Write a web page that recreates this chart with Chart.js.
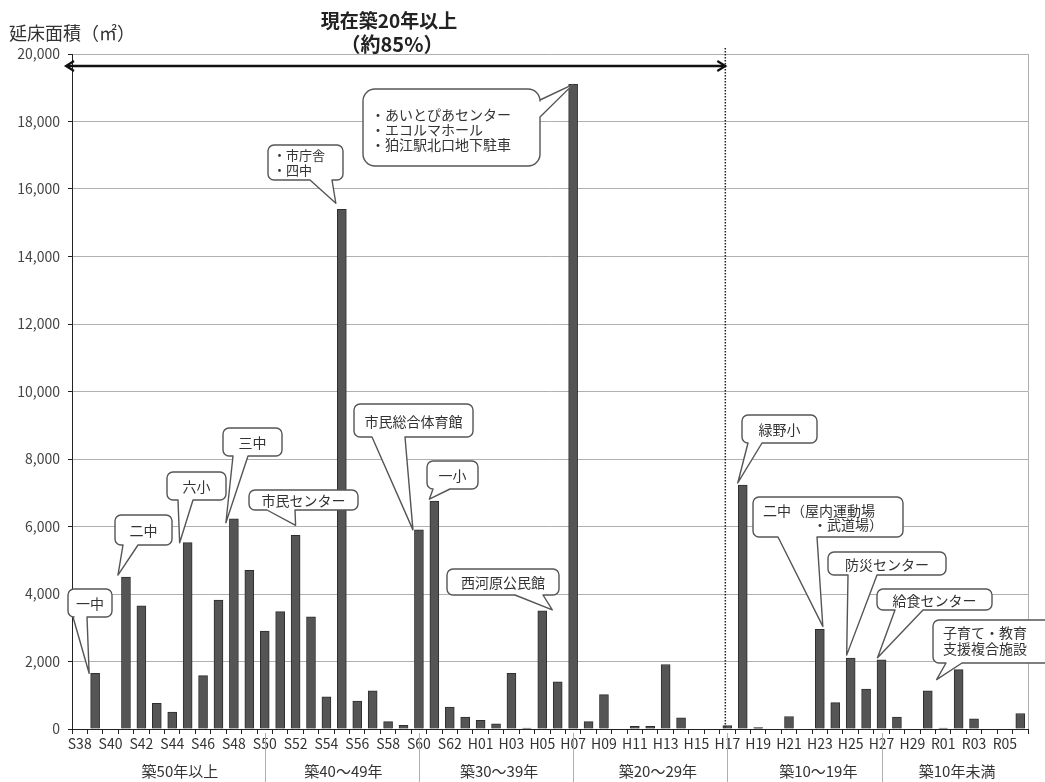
<!DOCTYPE html>
<html lang="ja">
<head>
<meta charset="utf-8">
<title>建築年度別延床面積</title>
<script src="https://cdn.jsdelivr.net/npm/chart.js@4.4.1/dist/chart.umd.min.js"></script>
<style>
  html, body { margin: 0; padding: 0; background: #ffffff; }
  #wrap { width: 1045px; height: 782px; position: relative; }
</style>
</head>
<body>
<div id="wrap"><canvas id="chart" width="1045" height="782"></canvas></div>
<script>
// 建築年度（昭和38年〜令和6年）
const categories = [
  'S38','S39','S40','S41','S42','S43','S44','S45','S46','S47','S48','S49','S50',
  'S51','S52','S53','S54','S55','S56','S57','S58','S59','S60','S61','S62','S63',
  'H01','H02','H03','H04','H05','H06','H07','H08','H09','H10','H11','H12','H13',
  'H14','H15','H16','H17','H18','H19','H20','H21','H22','H23','H24','H25','H26',
  'H27','H28','H29','H30',
  'R01','R02','R03','R04','R05','R06'
];

// 年度ごとの延床面積（㎡）
const floorArea = [
  0, 1650, 0, 4500, 3650, 760, 500, 5520, 1580, 3820, 6230, 4700, 2900,
  3480, 5740, 3320, 950, 15400, 830, 1130, 220, 110, 5900, 6750, 650, 350,
  260, 150, 1650, 30, 3500, 1400, 19100, 220, 1020, 0, 80, 80, 1910,
  330, 0, 0, 100, 7230, 40, 0, 370, 0, 2950, 780, 2100, 1180,
  2050, 350, 0, 1130,
  30, 1760, 300, 0, 0, 460
];

// 縦軸の目盛
const yMin = 0;
const yMax = 20000;
const yStep = 2000;

// 築年数の区分
const groupNames = ['築50年以上', '築40～49年', '築30～39年', '築20～29年', '築10～19年', '築10年未満'];
const groupBreaks = ['S50', 'S60', 'H07', 'H17', 'H27'];

// 区分ラベルの横位置（カテゴリ番号）
const groupLabelPos = [6.5, 17.1, 27.2, 37.5, 47.9, 56.9];

// 主な施設の吹き出し
const callouts = [
  { at: 'S39', lines: ['一中'], box: [68, 589, 44, 28], side: 'bottom', base: [73, 87], tip: [-6, 0] },
  { at: 'S41', lines: ['二中'], box: [115, 515, 57, 30], side: 'bottom', base: [123, 138], tip: [-8, -2] },
  { at: 'S45', lines: ['六小'], box: [167, 472, 59, 28], side: 'bottom', base: [178, 193], tip: [-8, 0] },
  { at: 'S48', lines: ['三中'], box: [223, 428, 59, 28], side: 'bottom', base: [233, 248], tip: [-8, 4] },
  { at: 'S52', lines: ['市民センター'], box: [249, 490, 109, 20], side: 'bottom', base: [267, 295], tip: [0, -10] },
  { at: 'S55', lines: [['・市庁舎', 5, 155], ['・四中', 5, 170]], box: [268, 145, 75, 35], side: 'bottom', base: [310, 332], tip: [-6, -6], size: 13 },
  { at: 'H07', lines: [['・あいとぴあセンター', 8, 115], ['・エコルマホール', 8, 130], ['・狛江駅北口地下駐車', 8, 145]],
    box: [363, 89, 177, 77], radius: 12, side: 'right', base: [100, 117], tip: [0, 0] },
  { at: 'S60', lines: ['市民総合体育館'], box: [354, 404, 119, 33], side: 'bottom', base: [372, 405], tip: [-6, 0] },
  { at: 'S61', lines: ['一小'], box: [427, 461, 51, 28], side: 'bottom', base: [433, 450], tip: [-5, -2] },
  { at: 'H05', lines: ['西河原公民館'], box: [447, 569, 112, 26], side: 'bottom', base: [515, 543], tip: [10, -1] },
  { at: 'H18', lines: ['緑野小'], box: [742, 415, 75, 28], side: 'bottom', base: [748, 762], tip: [-5, -2] },
  { at: 'H23', lines: [['二中（屋内運動場', 10, 511], ['・武道場）', 60, 525]], box: [753, 497, 150, 40], side: 'bottom', base: [778, 817], tip: [3, -3] },
  { at: 'H25', lines: ['防災センター'], box: [828, 552, 118, 23], side: 'bottom', base: [848, 877], tip: [-4, -3] },
  { at: 'H27', lines: ['給食センター'], box: [877, 589, 115, 21], side: 'bottom', base: [895, 923], tip: [-4, -2] },
  { at: 'R02', lines: [['子育て・教育', 10, 633], ['支援複合施設', 10, 649]], box: [933, 620, 130, 43], side: 'bottom', base: [946, 962], tip: [-22, 10] }
];

const FONT = '"Noto Sans CJK JP", "Noto Sans", sans-serif';
const TEXT = '#333333';

function calloutPath(ctx, x, y, w, h, r, side, b1, b2, tx, ty) {
  ctx.beginPath();
  ctx.moveTo(x + r, y);
  ctx.lineTo(x + w - r, y);
  ctx.arcTo(x + w, y, x + w, y + r, r);
  if (side === 'right') { ctx.lineTo(x + w, b1); ctx.lineTo(tx, ty); ctx.lineTo(x + w, b2); }
  ctx.lineTo(x + w, y + h - r);
  ctx.arcTo(x + w, y + h, x + w - r, y + h, r);
  if (side === 'bottom') { ctx.lineTo(b2, y + h); ctx.lineTo(tx, ty); ctx.lineTo(b1, y + h); }
  ctx.lineTo(x + r, y + h);
  ctx.arcTo(x, y + h, x, y + h - r, r);
  ctx.lineTo(x, y + r);
  ctx.arcTo(x, y, x + r, y, r);
  ctx.closePath();
}

const decorations = {
  id: 'decorations',
  beforeDatasetsDraw(chart) {
    const { ctx, chartArea } = chart;
    // 右側の枠線
    ctx.save();
    ctx.strokeStyle = '#b0b0b0';
    ctx.lineWidth = 1;
    ctx.beginPath();
    ctx.moveTo(Math.round(chartArea.right) + 0.5, chartArea.top);
    ctx.lineTo(Math.round(chartArea.right) + 0.5, chartArea.bottom);
    ctx.stroke();
    ctx.restore();
  },
  afterDatasetsDraw(chart) {
    const { ctx, chartArea, scales } = chart;
    const xs = scales.x, ys = scales.y;
    ctx.save();

    // 縦軸タイトル
    ctx.fillStyle = TEXT;
    ctx.font = '18px ' + FONT;
    ctx.textAlign = 'left';
    ctx.textBaseline = 'middle';
    ctx.fillText('延床面積（㎡）', 9, 33);

    // 見出し
    ctx.textAlign = 'center';
    ctx.fillStyle = '#222';
    ctx.font = 'bold 19px ' + FONT;
    ctx.fillText('現在築20年以上', 389, 21);
    ctx.font = 'bold 20px ' + FONT;
    ctx.fillText('（約85%）', 392, 44);

    // 築20年の境界（点線）
    const xb = xs.getPixelForValue(categories.indexOf('H17')) - 2;
    ctx.strokeStyle = '#222';
    ctx.lineWidth = 1.5;
    ctx.setLineDash([1.5, 1.5]);
    ctx.beginPath();
    ctx.moveTo(xb, 48);
    ctx.lineTo(xb, chartArea.bottom);
    ctx.stroke();
    ctx.setLineDash([]);

    // 両矢印
    const ay = 66, ax1 = 66, ax2 = xb;
    ctx.strokeStyle = '#111';
    ctx.lineWidth = 2.5;
    ctx.beginPath();
    ctx.moveTo(ax1 + 1, ay);
    ctx.lineTo(ax2 - 1, ay);
    ctx.stroke();
    ctx.lineWidth = 2.2;
    ctx.lineJoin = 'miter';
    ctx.beginPath();
    ctx.moveTo(ax1 + 8, ay - 5);
    ctx.lineTo(ax1, ay);
    ctx.lineTo(ax1 + 8, ay + 5);
    ctx.stroke();
    ctx.beginPath();
    ctx.moveTo(ax2 - 8, ay - 5);
    ctx.lineTo(ax2, ay);
    ctx.lineTo(ax2 - 8, ay + 5);
    ctx.stroke();

    // 区分の境界線と区分名
    ctx.strokeStyle = '#b0b0b0';
    ctx.lineWidth = 1;
    groupBreaks.forEach(c => {
      const x = Math.round(xs.getPixelForValue(categories.indexOf(c))) + 0.5;
      ctx.beginPath();
      ctx.moveTo(x, chartArea.bottom + 4);
      ctx.lineTo(x, 782);
      ctx.stroke();
    });
    ctx.fillStyle = TEXT;
    ctx.font = '15px ' + FONT;
    ctx.textAlign = 'center';
    ctx.textBaseline = 'middle';
    groupNames.forEach((g, i) => {
      ctx.fillText(g, xs.getPixelForValue(groupLabelPos[i]), 771);
    });

    // 吹き出し
    callouts.forEach(co => {
      const idx = categories.indexOf(co.at);
      const tx = xs.getPixelForValue(idx) + co.tip[0];
      const ty = ys.getPixelForValue(floorArea[idx]) + co.tip[1];
      const [bx, by, bw, bh] = co.box;
      const r = co.radius || 6;
      calloutPath(ctx, bx, by, bw, bh, r, co.side, co.base[0], co.base[1], tx, ty);
      ctx.fillStyle = '#ffffff';
      ctx.fill();
      ctx.strokeStyle = '#555555';
      ctx.lineWidth = 1.4;
      ctx.lineJoin = 'round';
      ctx.stroke();

      ctx.fillStyle = TEXT;
      ctx.textBaseline = 'middle';
      ctx.font = (co.size || 14) + 'px ' + FONT;
      if (typeof co.lines[0] === 'string') {
        ctx.textAlign = 'center';
        ctx.fillText(co.lines[0], bx + bw / 2, by + bh / 2 + 1);
      } else {
        ctx.textAlign = 'left';
        co.lines.forEach(([t, dx, y]) => ctx.fillText(t, bx + dx, y));
      }
    });

    ctx.restore();
  }
};

new Chart(document.getElementById('chart'), {
  type: 'bar',
  data: {
    labels: categories,
    datasets: [{
      data: floorArea,
      backgroundColor: '#555555',
      borderColor: '#2e2e2e',
      borderWidth: 1,
      barThickness: 9
    }]
  },
  options: {
    responsive: false,
    animation: false,
    devicePixelRatio: 1,
    layout: { padding: { top: 54, right: 17, left: 0, bottom: 0 } },
    plugins: { legend: { display: false }, tooltip: { enabled: false } },
    scales: {
      x: {
        offset: true,
        grid: { display: true, drawOnChartArea: false, drawTicks: true, tickLength: 5, tickColor: '#222', offset: true },
        border: { display: true, color: '#222', width: 1 },
        ticks: {
          autoSkip: false,
          maxRotation: 0,
          minRotation: 0,
          padding: 1,
          color: TEXT,
          font: { family: FONT, size: 14 },
          callback: (v, i) => (i % 2 === 0 ? categories[i] : '')
        },
        afterFit: s => { s.height = 53; }
      },
      y: {
        min: yMin,
        max: yMax,
        grid: { color: '#b0b0b0', lineWidth: 1, tickLength: 4, tickColor: '#222' },
        border: { display: true, color: '#222', width: 1 },
        ticks: {
          stepSize: yStep,
          padding: 8,
          color: '#444',
          font: { family: FONT, size: 14 },
          callback: v => v.toLocaleString('en-US')
        },
        afterFit: s => { s.width = 72; }
      }
    }
  },
  plugins: [decorations]
});
</script>
</body>
</html>
